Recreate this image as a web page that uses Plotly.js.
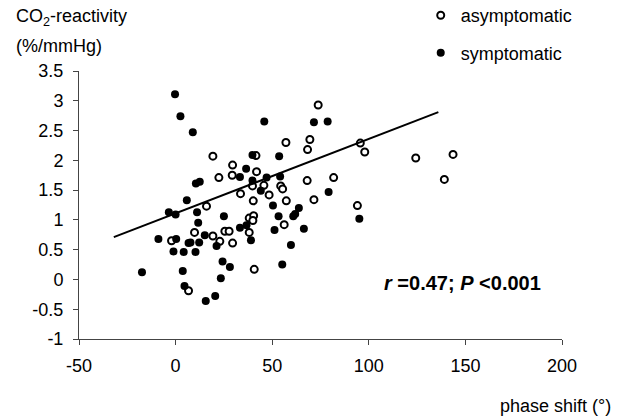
<!DOCTYPE html>
<html>
<head>
<meta charset="utf-8">
<script src="https://cdn.plot.ly/plotly-3.0.1.min.js"></script>
<style>html,body{margin:0;padding:0;background:#fff;}#chart{width:624px;height:416px;}</style>
</head>
<body>
<div id="chart"></div>
<script>
// asymptomatic (open circles)
const asymX = [19.3, 29.5, 29.3, 22.4, 33.6, 16, 9.8, -2.1, 19.3, 22.9, 25.5, 27.7, 29.5, 38.1, 40.4, 40.0, 6.7, 73.8, 57.1, 69.5, 68.3, 95.6, 97.9, 41.6, 41.9, 39.8, 45.7, 48.4, 54.4, 55.4, 68.1, 81.8, 40.2, 57.3, 71.6, 94.1, 56.2, 40.7, 38.1, 124.3, 143.6, 139.1];
const asymY = [2.07, 1.92, 1.75, 1.71, 1.44, 1.23, 0.79, 0.65, 0.73, 0.64, 0.81, 0.81, 0.61, 1.03, 1.07, 0.99, -0.19, 2.93, 2.30, 2.35, 2.18, 2.29, 2.14, 2.08, 1.81, 1.57, 1.58, 1.42, 1.57, 1.52, 1.66, 1.71, 1.32, 1.32, 1.34, 1.24, 0.92, 0.17, 0.79, 2.04, 2.10, 1.68];
// symptomatic (filled circles)
const symX = [-0.3, 2.5, 8.9, 36.5, 33.3, 10.5, 12.5, 5.8, -3.5, 0, 11.1, 25, 11.7, -8.9, 0.3, 6.7, 7.7, 12.2, 15.1, 21.2, 33.3, 36.7, -1.1, 4.2, 10.3, -17.4, 3.7, 24.3, 28.1, 23.4, 4.6, 15.6, 20.5, 45.9, 71.6, 78.7, 39.8, 53.6, 39.8, 47.1, 54.1, 44.1, 79.2, 50.4, 63.8, 61.9, 60.9, 95.1, 53.3, 51.2, 66.4, 59.7, 55.2, 39.0];
const symY = [3.11, 2.74, 2.47, 1.86, 1.72, 1.61, 1.64, 1.33, 1.13, 1.09, 1.13, 1.06, 0.95, 0.68, 0.68, 0.61, 0.62, 0.62, 0.74, 0.56, 0.87, 0.91, 0.47, 0.46, 0.46, 0.12, 0.14, 0.30, 0.21, 0.02, -0.11, -0.36, -0.28, 2.65, 2.64, 2.65, 2.09, 2.07, 1.66, 1.71, 1.73, 1.49, 1.47, 1.24, 1.20, 1.10, 1.06, 1.02, 1.06, 0.83, 0.85, 0.58, 0.25, 0.66];
// regression line
const fitX = [-32, 136];
const fitY = [0.71, 2.81];
// ticks
const xTickVals = [-50, 0, 50, 100, 150, 200];
const xTickText = ['-50', '0', '50', '100', '150', '200'];
const yTickVals = [-1, -0.5, 0, 0.5, 1, 1.5, 2, 2.5, 3, 3.5];
const yTickText = ['-1', '-0.5', '0', '0.5', '1', '1.5', '2', '2.5', '3', '3.5'];

const FONT = '"Liberation Sans", Arial, sans-serif';

const traces = [
  {x: asymX, y: asymY, type: 'scatter', mode: 'markers', name: 'asymptomatic',
   legendgroup: 'a', cliponaxis: false,
   marker: {symbol: 'circle', size: 7, color: '#ffffff', line: {color: '#000000', width: 2}}},
  {x: symX, y: symY, type: 'scatter', mode: 'markers', name: 'symptomatic',
   legendgroup: 'b', cliponaxis: false,
   marker: {symbol: 'circle', size: 8, color: '#000000', line: {width: 0}}},
  {x: fitX, y: fitY, type: 'scatter', mode: 'lines', showlegend: false,
   line: {color: '#000000', width: 2}, hoverinfo: 'skip'}
];

const axisCommon = {
  showgrid: false, zeroline: false, showline: true, linecolor: '#444', linewidth: 1,
  ticks: 'outside', ticklen: 5, tickcolor: '#444', tickwidth: 1,
  tickfont: {family: FONT, size: 18, color: '#000'}, fixedrange: true
};

const layout = {
  width: 624, height: 416,
  margin: {l: 79, r: 62, t: 71, b: 77, autoexpand: false},
  paper_bgcolor: '#fff', plot_bgcolor: '#fff',
  font: {family: FONT, size: 18, color: '#000'},
  xaxis: Object.assign({}, axisCommon, {range: [-50, 200], tickmode: 'array', tickvals: xTickVals, ticktext: xTickText, ticklabelstandoff: 5}),
  yaxis: Object.assign({}, axisCommon, {range: [-1, 3.5], tickmode: 'array', tickvals: yTickVals, ticktext: yTickText, ticklabelstandoff: 6}),
  showlegend: true,
  legend: {x: 0.7075, y: 1.276, xanchor: 'left', yanchor: 'top', traceorder: 'grouped', tracegroupgap: 11,
           font: {family: FONT, size: 18, color: '#000'}, bgcolor: 'rgba(0,0,0,0)', itemwidth: 30},
  annotations: [
    {xref: 'paper', yref: 'paper', x: -0.135, y: 1.198, xanchor: 'left', yanchor: 'middle', align: 'left', showarrow: false,
     text: 'CO<sub>2</sub>-reactivity', font: {family: FONT, size: 18, color: '#000'}},
    {xref: 'paper', yref: 'paper', x: -0.135, y: 1.093, xanchor: 'left', yanchor: 'middle', align: 'left', showarrow: false,
     text: '(%/mmHg)', font: {family: FONT, size: 18, color: '#000'}},
    {xref: 'paper', yref: 'paper', x: 1.106, y: -0.25, xanchor: 'right', yanchor: 'middle', showarrow: false,
     text: 'phase shift (°)', font: {family: FONT, size: 18, color: '#000'}},
    {xref: 'x', yref: 'y', x: 107, y: -0.06, xanchor: 'left', yanchor: 'middle', showarrow: false,
     text: '<b><i>r</i> =0.47; <i>P</i> &lt;0.001</b>', font: {family: FONT, size: 20, color: '#000'}}
  ]
};

Plotly.newPlot('chart', traces, layout, {staticPlot: true, displayModeBar: false});
</script>
</body>
</html>
